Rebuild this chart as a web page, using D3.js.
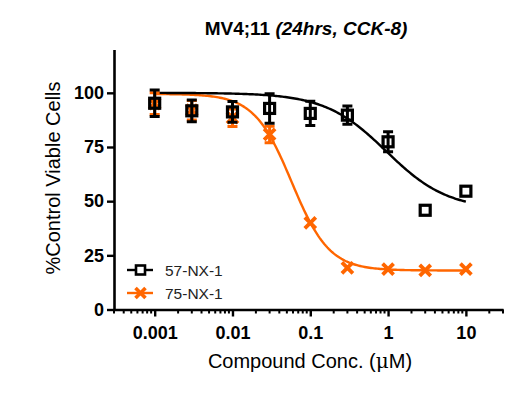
<!DOCTYPE html>
<html>
<head>
<meta charset="utf-8">
<script src="https://cdn.jsdelivr.net/npm/d3@7"></script>
<style>
  html, body { margin: 0; padding: 0; background: #fff; }
  svg { display: block; font-family: Arial, "Liberation Sans", sans-serif; }
</style>
</head>
<body>
<div id="chart"></div>
<script>
// concentrations (uM)
const conc = [0.001, 0.003, 0.01, 0.03, 0.1, 0.3, 1, 3, 10];

// 57-NX-1: mean and SD
const nx57Mean = [95.2, 91.7, 91.2, 92.8, 90.5, 89.7, 77.4, 45.8, 54.6];
const nx57Err = [6.1, 5.0, 4.8, 6.8, 5.6, 4.2, 4.6, 0, 0];

// 75-NX-1
const nx75Mean = [95.0, 92.0, 88.5, 80.8, 40.0, 19.2, 18.6, 18.1, 18.6];
const nx75Err = [5.0, 4.5, 4.0, 3.8, 0, 0, 0, 0, 0];

// four-parameter fit parameters [bottom, top, EC50, hill]
const nx57Fit = [46, 100, 0.95, 1.1];
const nx75Fit = [18, 99.5, 0.0578, 1.8];

const seriesNames = ['57-NX-1', '75-NX-1'];
const yTicks = [0, 25, 50, 75, 100];
const xTicks = [0.001, 0.01, 0.1, 1, 10];
const xTickLabels = ['0.001', '0.01', '0.1', '1', '10'];

const width = 514, height = 393;
const orange = '#ff6600';

const svg = d3.select('#chart').append('svg')
  .attr('width', width)
  .attr('height', height);

const x = d3.scaleLog().domain([0.0003, 30]).range([114, 503]);
const y = d3.scaleLinear().domain([0, 120]).range([309.5, 49.5]);

// axes
const minorTicks = [];
[0.0001, 0.001, 0.01, 0.1, 1, 10].forEach(dec => {
  for (let k = 2; k <= 9; k++) {
    const v = dec * k;
    if (v >= 0.0003 && v <= 30) minorTicks.push(v);
  }
});

const xAxis = svg.append('g')
  .attr('transform', `translate(0,${y(0)})`)
  .call(d3.axisBottom(x).tickValues(xTicks).tickFormat((d, i) => xTickLabels[i]).tickSize(7).tickSizeOuter(0));
xAxis.select('.domain').attr('stroke-width', 2.6);
xAxis.selectAll('.tick line').attr('stroke-width', 2.4);
xAxis.selectAll('.tick text')
  .attr('dy', '1.1em')
  .attr('font-size', 18)
  .attr('font-weight', 'bold')
  .attr('fill', '#000');

xAxis.selectAll('.minor')
  .data(minorTicks)
  .join('line')
  .attr('class', 'minor')
  .attr('x1', d => x(d)).attr('x2', d => x(d))
  .attr('y1', 0).attr('y2', 4)
  .attr('stroke', '#000')
  .attr('stroke-width', 2);

const yAxis = svg.append('g')
  .attr('transform', `translate(${x(0.0003)},0)`)
  .call(d3.axisLeft(y).tickValues(yTicks).tickSize(7).tickSizeOuter(0));
yAxis.select('.domain').attr('stroke-width', 2.6);
yAxis.selectAll('.tick line').attr('stroke-width', 2.4);
yAxis.selectAll('.tick text')
  .attr('x', -10)
  .attr('font-size', 18)
  .attr('font-weight', 'bold')
  .attr('fill', '#000');

// titles
svg.append('text')
  .attr('x', 306).attr('y', 35)
  .attr('text-anchor', 'middle')
  .attr('font-size', 19)
  .attr('font-weight', 'bold')
  .call(t => {
    t.append('tspan').text('MV4;11 ');
    t.append('tspan').attr('font-style', 'italic').text('(24hrs, CCK-8)');
  });

svg.append('text')
  .attr('transform', 'translate(60,178) rotate(-90)')
  .attr('text-anchor', 'middle')
  .attr('font-size', 20)
  .text('%Control Viable Cells');

svg.append('text')
  .attr('x', 310).attr('y', 368)
  .attr('text-anchor', 'middle')
  .attr('font-size', 20)
  .call(t => {
    t.append('tspan').text('Compound Conc. (');
    t.append('tspan').attr('font-family', '"DejaVu Serif", "Liberation Serif", serif').text('μ');
    t.append('tspan').text('M)');
  });

// fitted curves
const fourPL = p => c => p[0] + (p[1] - p[0]) / (1 + Math.pow(c / p[2], p[3]));
const curveX = d3.range(0, 201).map(i => Math.pow(10, -3 + 4 * i / 200));
const line = d3.line().x(d => x(d[0])).y(d => y(d[1]));

function drawCurve(p, color) {
  const f = fourPL(p);
  svg.append('path')
    .datum(curveX.map(c => [c, f(c)]))
    .attr('d', line)
    .attr('fill', 'none')
    .attr('stroke', color)
    .attr('stroke-width', 2.4);
}

function errorBars(g, means, errs, color) {
  const data = conc.map((c, i) => ({ c, m: means[i], e: errs[i] })).filter(d => d.e > 0);
  g.selectAll('.eb').data(data).join('path')
    .attr('d', d => {
      const cx = x(d.c), t = y(d.m + d.e), b = y(d.m - d.e);
      return `M${cx},${t}V${b}M${cx - 5},${t}H${cx + 5}M${cx - 5},${b}H${cx + 5}`;
    })
    .attr('fill', 'none')
    .attr('stroke', color)
    .attr('stroke-width', 3);
}

function crossPath(cx, cy, r) {
  return `M${cx - r},${cy - r}L${cx + r},${cy + r}M${cx - r},${cy + r}L${cx + r},${cy - r}`;
}

drawCurve(nx75Fit, orange);
drawCurve(nx57Fit, '#000');

// 75-NX-1 markers (drawn below the black ones)
const g75 = svg.append('g');
errorBars(g75, nx75Mean, nx75Err, orange);
g75.selectAll('.mk').data(conc).join('path')
  .attr('d', (c, i) => crossPath(x(c), y(nx75Mean[i]), 5.5))
  .attr('stroke', orange)
  .attr('stroke-width', 3.8)
  .attr('fill', 'none');

// 57-NX-1 markers
const g57 = svg.append('g');
errorBars(g57, nx57Mean, nx57Err, '#000');
g57.selectAll('.mk').data(conc).join('rect')
  .attr('x', (c) => x(c) - 5)
  .attr('y', (c, i) => y(nx57Mean[i]) - 5)
  .attr('width', 10).attr('height', 10)
  .attr('fill', 'none')
  .attr('stroke', '#000')
  .attr('stroke-width', 3.2);

// legend
const legend = svg.append('g');
seriesNames.forEach((name, i) => {
  const ly = 270 + i * 23;
  const color = i === 0 ? '#000' : orange;
  legend.append('line')
    .attr('x1', 127).attr('x2', 153)
    .attr('y1', ly).attr('y2', ly)
    .attr('stroke', color).attr('stroke-width', 2.4);
  if (i === 0) {
    legend.append('rect')
      .attr('x', 136).attr('y', ly - 4.5)
      .attr('width', 9).attr('height', 9)
      .attr('fill', '#fff').attr('stroke', color).attr('stroke-width', 2.6);
  } else {
    legend.append('path')
      .attr('d', crossPath(140.5, ly, 5))
      .attr('stroke', color).attr('stroke-width', 3.6);
  }
  legend.append('text')
    .attr('x', 165).attr('y', ly + 5.5)
    .attr('font-size', 15.5)
    .attr('fill', '#222')
    .text(name);
});
</script>
</body>
</html>
